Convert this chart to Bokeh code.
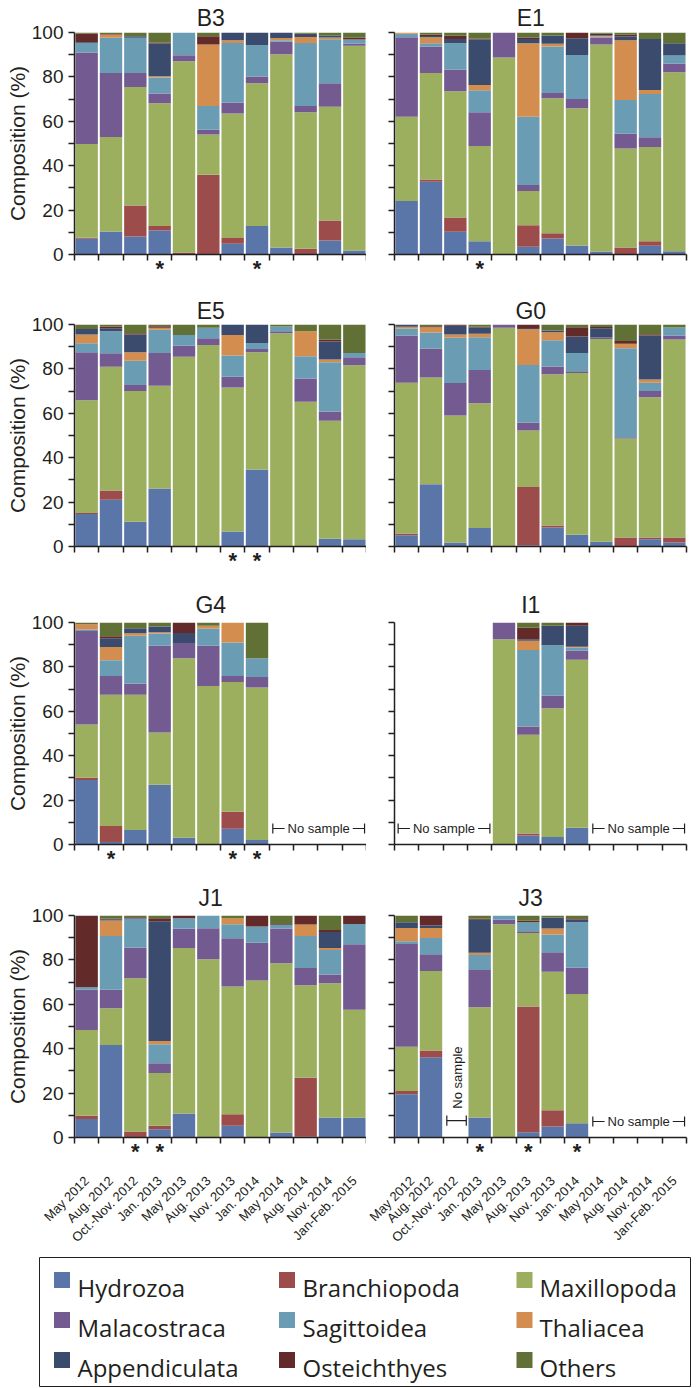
import math
from bokeh.plotting import figure
from bokeh.layouts import row, column
from bokeh.models import Range1d, FixedTicker, ColumnDataSource, Label, LinearAxis, AllLabels
from bokeh.core.properties import value
from bokeh.embed import file_html
from bokeh.resources import INLINE

NA = None
FONT = "Liberation Sans"
LEG_FONT = "Open Sans"
TXT = "#231F20"

CATEGORIES = ["May 2012", "Aug. 2012", "Oct.-Nov. 2012", "Jan. 2013", "May 2013", "Aug. 2013",
              "Nov. 2013", "Jan. 2014", "May 2014", "Aug. 2014", "Nov. 2014", "Jan-Feb. 2015"]
TAXA = ["Hydrozoa", "Branchiopoda", "Maxillopoda", "Malacostraca", "Sagittoidea",
        "Thaliacea", "Appendiculata", "Osteichthyes", "Others"]
COLORS = ["#5A76A9", "#9C4D4B", "#9BAF5F", "#735B91", "#6A9DB4",
          "#D38D4E", "#3A4B6D", "#622A29", "#617135"]

B3 = {
    "Hydrozoa":      [7.1, 10.4, 8.1, 10.8, 0, 0, 4.8, 12.8, 3.2, 0, 6.3, 1.8],
    "Branchiopoda":  [0.4, 0, 14.0, 2.0, 0.9, 35.9, 2.6, 0, 0, 2.6, 9.0, 0],
    "Maxillopoda":   [42.3, 42.5, 53.4, 55.3, 86.2, 18.2, 56.1, 64.3, 87.0, 61.5, 51.2, 92.2],
    "Malacostraca":  [41.2, 28.9, 6.3, 4.4, 2.7, 2.1, 4.9, 3.1, 5.6, 2.8, 10.6, 1.0],
    "Sagittoidea":   [4.3, 15.8, 15.8, 7.2, 10.2, 10.7, 26.9, 14.2, 0.7, 28.4, 19.9, 1.8],
    "Thaliacea":     [0, 1.5, 0, 0.6, 0, 27.7, 1.2, 0, 1.0, 2.7, 0.7, 0],
    "Appendiculata": [0.3, 0, 0.7, 14.7, 0, 0, 3.5, 5.6, 2.5, 1.4, 0.8, 0],
    "Osteichthyes":  [4.0, 0.2, 0, 0.5, 0, 3.7, 0, 0, 0, 0, 0, 0.9],
    "Others":        [0.4, 0.7, 1.7, 4.5, 0, 1.7, 0, 0, 0, 0.6, 1.5, 2.3],
}
E1 = {
    "Hydrozoa":      [24.1, 32.8, 10.2, 6.0, 0, 3.5, 7.2, 4.1, 1.4, 0, 3.9, 1.5],
    "Branchiopoda":  [0, 1.0, 6.5, 0, 0, 9.7, 2.4, 0, 0, 3.2, 2.1, 0],
    "Maxillopoda":   [38.0, 48.0, 56.8, 42.9, 88.7, 15.4, 60.8, 61.8, 93.2, 44.6, 42.4, 80.6],
    "Malacostraca":  [35.8, 11.9, 9.7, 15.2, 11.3, 2.7, 2.4, 4.2, 3.1, 6.6, 4.4, 3.9],
    "Sagittoidea":   [1.5, 1.5, 12.0, 9.9, 0, 30.8, 20.9, 19.8, 0.4, 15.2, 19.5, 3.6],
    "Thaliacea":     [0.6, 2.7, 0, 2.4, 0, 33.1, 1.2, 0, 0.4, 26.9, 1.8, 0],
    "Appendiculata": [0, 0.5, 1.9, 20.4, 0, 1.9, 3.7, 7.5, 0.4, 1.7, 23.0, 5.6],
    "Osteichthyes":  [0, 0.6, 1.4, 0.5, 0, 0.6, 0, 2.6, 0.5, 0.8, 0, 0],
    "Others":        [0, 1.0, 1.5, 2.7, 0, 2.3, 1.4, 0, 0.6, 1.0, 2.9, 4.8],
}
E5 = {
    "Hydrozoa":      [14.6, 21.1, 11.2, 26.1, 0, 0, 6.8, 34.7, 0, 0, 3.5, 3.3],
    "Branchiopoda":  [0.5, 4.1, 0, 0, 0, 0, 0, 0, 0, 0, 0, 0],
    "Maxillopoda":   [50.8, 55.8, 58.9, 46.3, 85.5, 90.8, 64.8, 52.8, 96.1, 65.2, 53.1, 78.4],
    "Malacostraca":  [21.6, 6.0, 2.6, 14.8, 5.0, 3.0, 4.9, 1.5, 0.9, 10.5, 4.2, 3.5],
    "Sagittoidea":   [4.1, 10.0, 11.0, 10.4, 4.8, 4.7, 9.5, 2.7, 2.1, 10.0, 22.2, 2.0],
    "Thaliacea":     [3.9, 0, 3.8, 0.9, 0, 0, 9.3, 0, 0, 11.3, 1.2, 0],
    "Appendiculata": [2.5, 1.3, 8.0, 0, 0, 0, 4.7, 8.3, 0, 0, 8.1, 0],
    "Osteichthyes":  [0, 0.8, 0.6, 0.7, 0, 0, 0, 0, 0, 0, 0.9, 0],
    "Others":        [2.0, 0.9, 3.9, 0.8, 4.7, 1.5, 0, 0, 0.9, 3.0, 6.8, 12.8],
}
G0 = {
    "Hydrozoa":      [5.1, 28.0, 1.8, 8.3, 0, 0.6, 8.6, 5.3, 2.1, 0, 3.3, 1.8],
    "Branchiopoda":  [0.8, 0, 0, 0, 0, 26.2, 0.9, 0, 0, 4.1, 0.8, 2.3],
    "Maxillopoda":   [67.9, 48.1, 57.2, 56.2, 98.5, 25.4, 68.1, 72.9, 91.4, 44.6, 63.1, 89.1],
    "Malacostraca":  [21.3, 13.1, 14.7, 15.0, 1.5, 3.6, 3.5, 0.7, 0.6, 0.5, 2.9, 1.8],
    "Sagittoidea":   [3.1, 7.2, 20.3, 14.8, 0, 26.0, 11.8, 8.3, 0, 40.1, 3.7, 3.6],
    "Thaliacea":     [0.8, 2.4, 1.5, 1.5, 0, 16.2, 3.6, 0, 0, 2.0, 1.4, 0],
    "Appendiculata": [1.0, 0, 3.9, 2.8, 0, 0.4, 0.8, 7.4, 4.2, 0, 19.8, 0],
    "Osteichthyes":  [0, 0.4, 0.6, 0.4, 0, 1.6, 0, 4.2, 0.6, 1.3, 0.6, 0],
    "Others":        [0, 0.8, 0, 1.0, 0, 0, 2.7, 1.2, 1.1, 7.4, 4.4, 1.4],
}
G4 = {
    "Hydrozoa":      [29.0, 1.1, 6.5, 26.9, 3.0, 0, 7.1, 2.0, NA, NA, NA, NA],
    "Branchiopoda":  [1.1, 7.2, 0, 0, 0, 0, 7.6, 0, NA, NA, NA, NA],
    "Maxillopoda":   [24.0, 59.1, 60.9, 23.5, 80.9, 71.4, 58.5, 68.7, NA, NA, NA, NA],
    "Malacostraca":  [42.1, 8.5, 5.1, 39.1, 6.9, 18.1, 2.7, 4.8, NA, NA, NA, NA],
    "Sagittoidea":   [0.6, 7.1, 21.5, 5.5, 0, 7.8, 15.1, 8.4, NA, NA, NA, NA],
    "Thaliacea":     [2.4, 6.0, 1.2, 0.6, 0, 1.2, 9.0, 0, NA, NA, NA, NA],
    "Appendiculata": [0, 3.9, 2.2, 2.6, 4.5, 0, 0, 0, NA, NA, NA, NA],
    "Osteichthyes":  [0, 0.9, 0, 0, 4.7, 0, 0, 0, NA, NA, NA, NA],
    "Others":        [0.8, 6.2, 2.6, 1.8, 0, 1.5, 0, 16.1, NA, NA, NA, NA],
}
I1 = {
    "Hydrozoa":      [NA, NA, NA, NA, 0, 4.0, 3.4, 7.5, NA, NA, NA, NA],
    "Branchiopoda":  [NA, NA, NA, NA, 0, 0.9, 0, 0, NA, NA, NA, NA],
    "Maxillopoda":   [NA, NA, NA, NA, 92.5, 44.5, 58.0, 75.7, NA, NA, NA, NA],
    "Malacostraca":  [NA, NA, NA, NA, 7.5, 3.7, 5.7, 4.1, NA, NA, NA, NA],
    "Sagittoidea":   [NA, NA, NA, NA, 0, 34.5, 22.6, 1.3, NA, NA, NA, NA],
    "Thaliacea":     [NA, NA, NA, NA, 0, 4.2, 0, 0.5, NA, NA, NA, NA],
    "Appendiculata": [NA, NA, NA, NA, 0, 0.7, 8.8, 9.4, NA, NA, NA, NA],
    "Osteichthyes":  [NA, NA, NA, NA, 0, 5.1, 0, 1.5, NA, NA, NA, NA],
    "Others":        [NA, NA, NA, NA, 0, 2.4, 1.5, 0, NA, NA, NA, NA],
}
J1 = {
    "Hydrozoa":      [8.3, 41.7, 0, 3.7, 10.8, 0, 5.3, 0, 2.2, 0.3, 9.0, 8.9],
    "Branchiopoda":  [1.5, 0, 2.7, 1.6, 0, 0, 5.2, 0, 0, 26.6, 0, 0],
    "Maxillopoda":   [38.6, 16.5, 69.0, 23.7, 74.6, 80.3, 57.5, 70.7, 76.3, 41.7, 60.5, 48.7],
    "Malacostraca":  [18.2, 8.3, 13.9, 4.4, 8.6, 14.0, 21.8, 17.0, 15.6, 7.8, 3.9, 29.5],
    "Sagittoidea":   [1.1, 24.3, 12.9, 8.6, 4.8, 5.7, 6.3, 7.3, 1.7, 14.4, 11.1, 9.1],
    "Thaliacea":     [0, 6.9, 0, 1.5, 0, 0, 2.7, 0, 0, 5.1, 0.9, 0],
    "Appendiculata": [0, 0.6, 0.3, 53.9, 0, 0, 0, 0, 0, 0, 7.2, 0],
    "Osteichthyes":  [32.3, 0.3, 0.4, 1.4, 1.2, 0, 0, 5.0, 0.4, 4.1, 0.9, 3.8],
    "Others":        [0, 1.4, 0.8, 1.2, 0, 0, 1.2, 0, 3.8, 0, 6.5, 0],
}
J3 = {
    "Hydrozoa":      [19.5, 36.1, NA, 9.0, 0, 2.4, 4.9, 6.4, NA, NA, NA, NA],
    "Branchiopoda":  [1.5, 3.1, NA, 0, 0, 56.6, 7.4, 0, NA, NA, NA, NA],
    "Maxillopoda":   [19.9, 35.8, NA, 49.7, 96.1, 33.1, 62.4, 58.2, NA, NA, NA, NA],
    "Malacostraca":  [46.3, 7.5, NA, 16.8, 2.0, 0.8, 8.8, 11.9, NA, NA, NA, NA],
    "Sagittoidea":   [1.2, 7.4, NA, 6.7, 1.9, 4.1, 7.9, 20.5, NA, NA, NA, NA],
    "Thaliacea":     [6.0, 4.5, NA, 1.0, 0, 0, 2.7, 0, NA, NA, NA, NA],
    "Appendiculata": [2.6, 1.1, NA, 14.9, 0, 0, 5.0, 1.2, NA, NA, NA, NA],
    "Osteichthyes":  [0, 4.5, NA, 0.4, 0, 0.6, 0, 0.6, NA, NA, NA, NA],
    "Others":        [3.0, 0, NA, 1.5, 0, 2.4, 0.9, 1.2, NA, NA, NA, NA],
}

SITES = [("B3", B3), ("E1", E1), ("E5", E5), ("G0", G0),
         ("G4", G4), ("I1", I1), ("J1", J1), ("J3", J3)]

ASTERISKS = {
    "B3": ["Jan. 2013", "Jan. 2014"],
    "E1": ["Jan. 2013"],
    "E5": ["Nov. 2013", "Jan. 2014"],
    "G4": ["Aug. 2012", "Nov. 2013", "Jan. 2014"],
    "J1": ["Oct.-Nov. 2012", "Jan. 2013"],
    "J3": ["Jan. 2013", "Aug. 2013", "Jan. 2014"],
}
NO_SAMPLE = {
    "G4": [("May 2014", "Jan-Feb. 2015")],
    "I1": [("May 2012", "Jan. 2013"), ("May 2014", "Jan-Feb. 2015")],
    "J3": [("May 2014", "Jan-Feb. 2015")],
}
NO_SAMPLE_VERTICAL = {"J3": ["Oct.-Nov. 2012"]}

IDX = {c: i for i, c in enumerate(CATEGORIES)}

# per-row layout: (min_border_top, min_border_bottom, title standoff)
ROWS = [(32, 38, 2), (32, 40, 1), (36, 35, 5), (36, 118, 5)]


def panel(name, data, left, r):
    top, bottom, tstand = ROWS[r]
    last = (r == len(ROWS) - 1)
    p = figure(frame_width=292, frame_height=222,
               x_range=Range1d(0, 12), y_range=Range1d(0, 100),
               output_backend="svg", toolbar_location=None,
               min_border_left=74 if left else 28, min_border_right=0 if left else 9,
               min_border_top=top, min_border_bottom=bottom)
    p.xgrid.visible = False
    p.ygrid.visible = False
    p.outline_line_color = None
    p.background_fill_color = "white"
    p.border_fill_color = "white"

    src = {"x": [IDX[c] + 0.5 for c in CATEGORIES]}
    for t in TAXA:
        src[t] = [0 if v is None else v for v in data[t]]
    p.vbar_stack(TAXA, x="x", width=0.92, fill_color=COLORS, line_color=None,
                 source=ColumnDataSource(src))

    # x axis: boundary ticks + asterisk marks
    stars = [IDX[c] + 0.5 for c in ASTERISKS.get(name, [])]
    xa = p.xaxis[0]
    xa.ticker = FixedTicker(ticks=stars, minor_ticks=list(range(len(CATEGORIES) + 1)))
    xa.major_label_overrides = {s: "*" for s in stars}
    xa.major_label_policy = AllLabels()
    xa.major_tick_line_color = None
    xa.major_tick_out = 0
    xa.major_tick_in = 0
    xa.minor_tick_out = 6
    xa.minor_tick_in = 0
    xa.minor_tick_line_color = TXT
    xa.minor_tick_line_width = 1.5
    xa.axis_line_color = TXT
    xa.axis_line_width = 1.5
    xa.major_label_text_font = FONT
    xa.major_label_text_font_size = "22px"
    xa.major_label_text_font_style = "bold"
    xa.major_label_text_color = TXT
    xa.major_label_standoff = -5

    if last:
        centers = [IDX[c] + 0.5 for c in CATEGORIES]
        ca = LinearAxis(ticker=FixedTicker(ticks=centers, minor_ticks=[]),
                        major_label_overrides={IDX[c] + 0.5: c for c in CATEGORIES},
                        major_label_policy=AllLabels(),
                        major_label_orientation=math.pi / 4,
                        major_label_text_font=FONT, major_label_text_font_size="13px",
                        major_label_text_color=TXT, major_label_standoff=12,
                        axis_line_color=None, major_tick_line_color=None,
                        major_tick_out=0, major_tick_in=0,
                        minor_tick_line_color=None)
        p.add_layout(ca, "below")

    # panel title as a single centred label above the frame
    ta = LinearAxis(ticker=FixedTicker(ticks=[5.6], minor_ticks=[]),
                    major_label_overrides={5.6: name},
                    major_label_text_font=FONT, major_label_text_font_size="23px",
                    major_label_text_color=TXT, major_label_standoff=tstand,
                    axis_line_color=None, major_tick_line_color=None,
                    major_tick_out=0, major_tick_in=0, minor_tick_line_color=None)
    p.add_layout(ta, "above")

    # y axis
    ya = p.yaxis[0]
    if left:
        ya.ticker = FixedTicker(ticks=[0, 20, 40, 60, 80, 100], minor_ticks=[10, 30, 50, 70, 90])
        ya.axis_label = "Composition (%)"
        ya.axis_label_text_font = FONT
        ya.axis_label_text_font_size = "21px"
        ya.axis_label_text_font_style = "normal"
        ya.axis_label_text_color = TXT
        ya.axis_label_standoff = 0
        ya.major_label_text_font = FONT
        ya.major_label_text_font_size = "19px"
        ya.major_label_text_color = TXT
        ya.major_label_standoff = 5
    else:
        ya.ticker = FixedTicker(ticks=[], minor_ticks=[0, 10, 20, 30, 40, 50, 60, 70, 80, 90, 100])
    ya.major_tick_out = 6
    ya.major_tick_in = 0
    ya.minor_tick_out = 6
    ya.minor_tick_in = 0
    ya.major_tick_line_color = TXT
    ya.minor_tick_line_color = TXT
    ya.major_tick_line_width = 1.5
    ya.minor_tick_line_width = 1.5
    ya.axis_line_color = TXT
    ya.axis_line_width = 1.5

    # "No sample" brackets
    yb = 7.2
    for c0, c1 in NO_SAMPLE.get(name, []):
        x0 = IDX[c0] + 0.15
        x1 = IDX[c1] + 0.92
        p.segment(x0=[x0], y0=[yb], x1=[x1], y1=[yb], line_color=TXT, line_width=1.2)
        p.segment(x0=[x0, x1], y0=[yb - 2.3, yb - 2.3], x1=[x0, x1], y1=[yb + 2.3, yb + 2.3],
                  line_color=TXT, line_width=1.2)
        p.add_layout(Label(x=(x0 + x1) / 2, y=yb, text="No sample", text_align="center",
                           text_baseline="middle", background_fill_color="white",
                           padding=3, text_font=FONT, text_font_size="13px",
                           text_color=TXT))
    for c in NO_SAMPLE_VERTICAL.get(name, []):
        x0 = IDX[c] + 0.15
        x1 = IDX[c] + 0.95
        yv = 7.6
        p.segment(x0=[x0], y0=[yv], x1=[x1], y1=[yv], line_color=TXT, line_width=1.2)
        p.segment(x0=[x0, x1], y0=[yv - 2.3, yv - 2.3], x1=[x0, x1], y1=[yv + 2.3, yv + 2.3],
                  line_color=TXT, line_width=1.2)
        p.add_layout(Label(x=IDX[c] + 0.58, y=27, text="No sample", text_align="center",
                           text_baseline="middle", angle=math.pi / 2,
                           text_font=FONT, text_font_size="13px", text_color=TXT))
    return p


rows = []
for r in range(4):
    (ln, ld), (rn, rd) = SITES[2 * r], SITES[2 * r + 1]
    rows.append(row(panel(ln, ld, True, r), panel(rn, rd, False, r)))

# legend (data units = page pixels)
LEG_TOP, LEG_BOT = 1255, 1387
lg = figure(width=695, height=LEG_BOT - LEG_TOP, x_range=Range1d(0, 695),
            y_range=Range1d(LEG_BOT, LEG_TOP),
            output_backend="svg", toolbar_location=None, min_border=0,
            x_axis_location=None, y_axis_location=None)
lg.grid.visible = False
lg.outline_line_color = None
lg.quad(left=[39], right=[690], top=[1257], bottom=[1386], fill_color=None,
        line_color=TXT, line_width=1)
col_sq = [61.5, 286.5, 524]
col_tx = [77, 302, 539]
row_base = [1287, 1327, 1367]
sq_x = [col_sq[i % 3] for i in range(len(TAXA))]
sq_y = [row_base[i // 3] - 7.5 for i in range(len(TAXA))]
tx_x = [col_tx[i % 3] for i in range(len(TAXA))]
tx_y = [row_base[i // 3] for i in range(len(TAXA))]
lg.rect(x=sq_x, y=sq_y, width=16, height=16, fill_color=COLORS, line_color=None)
lg.text(x=tx_x, y=tx_y, text=TAXA, text_font=value(LEG_FONT), text_font_size="24px",
        text_baseline="alphabetic", text_align="left", text_color=TXT)

layout = column(*rows, lg)
open("out.html", "w").write(file_html(layout, INLINE))
